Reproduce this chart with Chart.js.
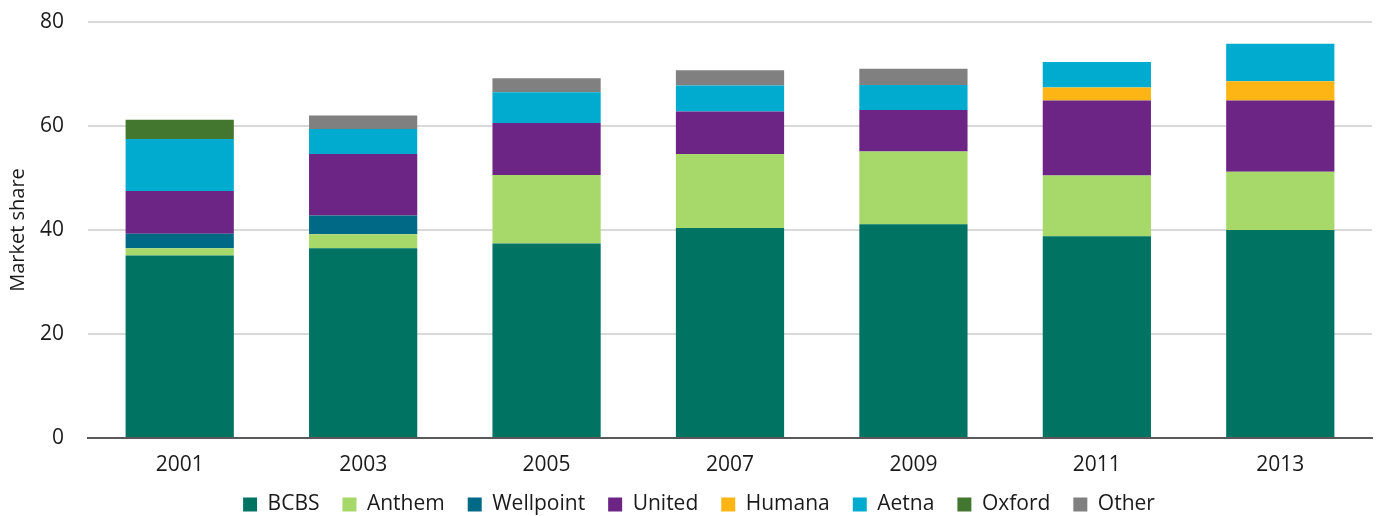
<!DOCTYPE html>
<html>
<head>
<meta charset="utf-8">
<title>Market share</title>
<script src="https://cdn.jsdelivr.net/npm/chart.js@4/dist/chart.umd.min.js"></script>
<style>
  html, body { margin: 0; padding: 0; background: #fff; }
  #wrap { width: 1382px; height: 516px; position: relative; }
</style>
</head>
<body>
<div id="wrap"><canvas id="shareChart"></canvas></div>
<script>
// data
var years = ['2001', '2003', '2005', '2007', '2009', '2011', '2013'];
var bcbs      = [35.1, 36.5, 37.4, 40.4, 41.1, 38.8, 40.0];
var anthem    = [1.4, 2.7, 13.2, 14.2, 14.0, 11.7, 11.2];
var wellpoint = [2.8, 3.6, 0, 0, 0, 0, 0];
var united    = [8.2, 11.8, 10.0, 8.2, 8.0, 14.4, 13.7];
var humana    = [0, 0, 0, 0, 0, 2.5, 3.7];
var aetna     = [10.0, 4.8, 5.9, 5.0, 4.8, 4.9, 7.2];
var oxford    = [3.7, 0, 0, 0, 0, 0, 0];
var other     = [0, 2.6, 2.7, 2.9, 3.1, 0, 0];
var yTicks    = [0, 20, 40, 60, 80];

var font = "'Open Sans', 'Noto Sans', sans-serif";

function ds(label, data, color) {
    return {
        label: label,
        data: data,
        backgroundColor: color,
        borderWidth: 0,
        barPercentage: 0.59,
        categoryPercentage: 1.0
    };
}

var ctx = document.getElementById('shareChart').getContext('2d');
var shareChart = new Chart(ctx, {
    type: 'bar',
    data: {
        labels: years,
        datasets: [
            ds('BCBS', bcbs, '#007362'),
            ds('Anthem', anthem, '#a6d86a'),
            ds('Wellpoint', wellpoint, '#006986'),
            ds('United', united, '#6c2585'),
            ds('Humana', humana, '#fdb515'),
            ds('Aetna', aetna, '#00abd0'),
            ds('Oxford', oxford, '#437730'),
            ds('Other', other, '#808080')
        ]
    },
    options: {
        responsive: true,
        maintainAspectRatio: false,
        animation: false,
        layout: {
            // left padding pushes the centred legend right, axis width compensates
            padding: { left: 26, right: 10, top: 22, bottom: -9 }
        },
        scales: {
            x: {
                stacked: true,
                grid: { display: false, drawTicks: false },
                border: { display: true, color: '#595959', width: 2 },
                ticks: {
                    color: '#1a1a1a',
                    padding: 14,
                    font: { family: font, size: 21 }
                },
                afterFit: function (s) { s.height = 33; }
            },
            y: {
                stacked: true,
                min: 0,
                max: 80,
                afterBuildTicks: function (s) {
                    s.ticks = yTicks.map(function (v) { return { value: v }; });
                },
                grid: { color: '#d9d9d9', lineWidth: 2, drawTicks: false },
                border: { display: false },
                ticks: {
                    color: '#1a1a1a',
                    padding: 24,
                    font: { family: font, size: 21 }
                },
                title: {
                    display: true,
                    text: 'Market share',
                    color: '#1a1a1a',
                    padding: { top: -20, bottom: 0 },
                    font: { family: font, size: 20 }
                },
                afterFit: function (s) {
                    s.width = 62;
                    s.paddingTop = 0;
                }
            }
        },
        plugins: {
            legend: {
                display: true,
                position: 'bottom',
                labels: {
                    boxWidth: 14,
                    boxHeight: 14,
                    padding: 23,
                    color: '#1a1a1a',
                    font: { family: font, size: 21 }
                }
            },
            tooltip: { enabled: false }
        }
    }
});
</script>
</body>
</html>
